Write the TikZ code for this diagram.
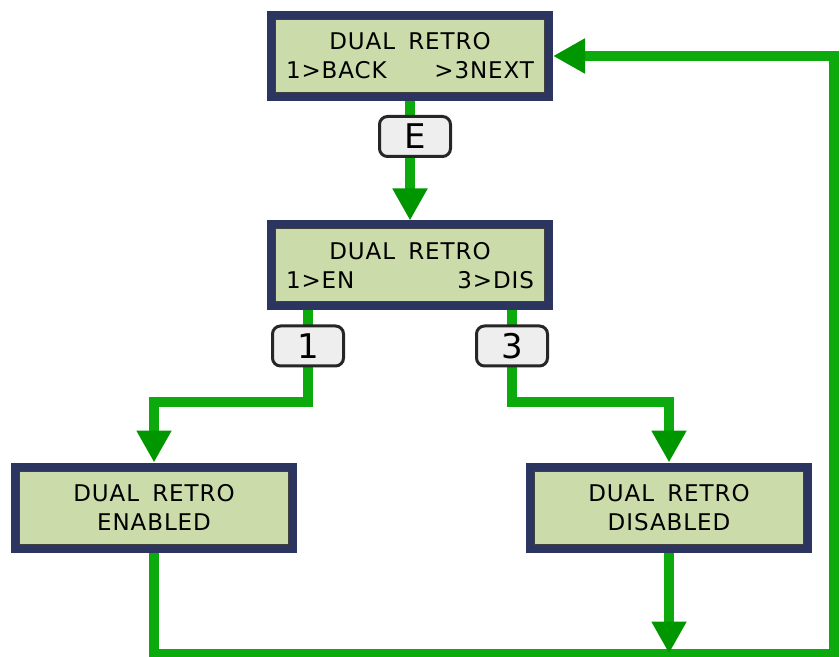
\documentclass[tikz,border=0pt]{standalone}
\usepackage{fontspec}
\setmainfont{DejaVu Sans}
\newfontfamily\lcdfont[LetterSpace=4,WordSpace=1.6]{DejaVu Sans}
\usetikzlibrary{arrows.meta}
\definecolor{lcdgreen}{RGB}{204,219,170}
\definecolor{lcdframe}{RGB}{43,53,96}
\definecolor{flowgreen}{RGB}{12,170,12}
\definecolor{tipgreen}{RGB}{0,150,0}
\definecolor{keygray}{RGB}{238,238,238}
\tikzset{
  lcd/.style={draw=lcdframe,line width=4pt,fill=lcdgreen,
    minimum width=139pt,minimum height=41pt,inner sep=0pt,align=center,
    font=\lcdfont\fontsize{11.5}{14.5}\selectfont,
    path picture={\draw[black!75,line width=0.6pt]
      ([shift={(2.2pt,-2.2pt)}]path picture bounding box.north west) rectangle
      ([shift={(-2.2pt,2.2pt)}]path picture bounding box.south east);}},
  keycap/.style={draw=black!85,line width=1.5pt,fill=keygray,
    rounded corners=4pt,minimum width=35.5pt,minimum height=20pt,
    inner sep=0pt,font=\fontsize{17}{17}\selectfont},
  flow/.style={draw=flowgreen,line width=5pt},
  flowarrow/.style={flow,-{Triangle[length=16pt,width=16.5pt,fill=tipgreen,color=tipgreen]}}
}
\newcommand{\lcdrow}[2]{\makebox[124pt]{#1\hfill#2}}

\begin{document}
\begin{tikzpicture}[x=0.5pt,y=-0.5pt]
\useasboundingbox (0,0) rectangle (840,657);
% screens
\node[lcd] (back) at (410,56)    {DUAL RETRO\\\lcdrow{1>BACK}{>3NEXT}};
\node[lcd] (ask)  at (410,265.5) {DUAL RETRO\\\lcdrow{1>EN}{3>DIS}};
\node[lcd] (en)   at (154,507.5) {DUAL RETRO\\ENABLED};
\node[lcd] (dis)  at (669,507.5) {DUAL RETRO\\DISABLED};
% turning points of the flow
\coordinate (jen)  at (308,402);
\coordinate (jdis) at (512,402);
\coordinate (loop) at (834,653.5);
% flow lines
\draw[flowarrow] (back.south) -- (ask.north);
\draw[flowarrow] (jen |- ask.south) -- (jen) -| (en.north);
\draw[flowarrow] (jdis |- ask.south) -- (jdis) -| (dis.north);
\draw[flowarrow] (en.south) |- (loop) |- (back.east);
\draw[flowarrow] (dis.south) -- (dis.south |- loop);
% keys
\node[keycap] (keyE) at (415,136.5) {E};
\node[keycap] (key1) at (308,346)   {1};
\node[keycap] (key3) at (512,346)   {3};
\end{tikzpicture}
\end{document}
